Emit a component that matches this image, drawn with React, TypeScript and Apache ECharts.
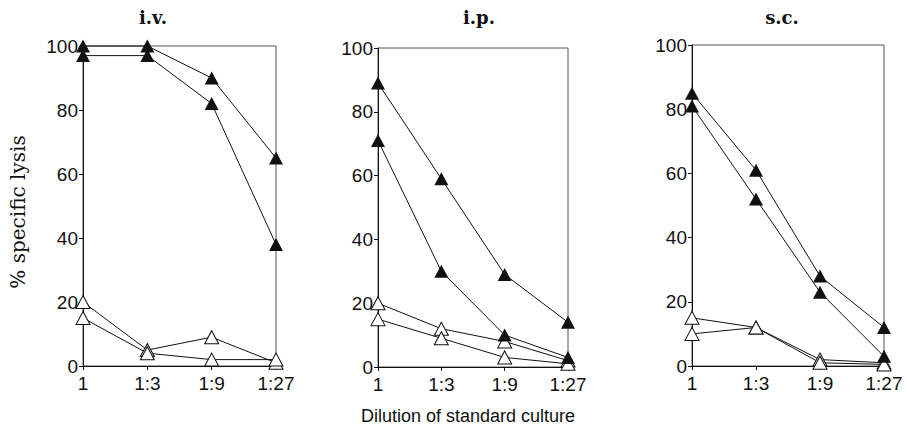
import React, { useEffect, useRef } from "react";
import * as echarts from "echarts";

const dilutions = ["1", "1:3", "1:9", "1:27"];
const panelTitles = ["i.v.", "i.p.", "s.c."];

// filled triangles (two series per panel), open triangles (two series per panel)
const ivFilledA = [100, 100, 90, 65];
const ivFilledB = [97, 97, 82, 38];
const ivOpenA = [20, 5, 9, 1];
const ivOpenB = [15, 4, 2, 2];

const ipFilledA = [89, 59, 29, 14];
const ipFilledB = [71, 30, 10, 3];
const ipOpenA = [20, 12, 8, 2];
const ipOpenB = [15, 9, 3, 1];

const scFilledA = [85, 61, 28, 12];
const scFilledB = [81, 52, 23, 3];
const scOpenA = [15, 12, 2, 1];
const scOpenB = [10, 12, 1, 0.5];

const yTicks = [0, 20, 40, 60, 80, 100];

const panels = [
  { filled: [ivFilledA, ivFilledB], open: [ivOpenA, ivOpenB] },
  { filled: [ipFilledA, ipFilledB], open: [ipOpenA, ipOpenB] },
  { filled: [scFilledA, scFilledB], open: [scOpenA, scOpenB] },
];

const grids = [
  { left: 83, top: 46, width: 193, height: 320 },
  { left: 378, top: 48, width: 190, height: 319 },
  { left: 692, top: 45, width: 192, height: 321 },
];
const titlePos = [153, 479, 782];

const SANS = "'Liberation Sans', Arial, sans-serif";
const SERIF = "'DejaVu Serif', serif";

export default function App() {
  const ref = useRef<HTMLDivElement>(null);
  useEffect(() => {
    document.body.style.margin = "0";
    const chart = echarts.init(ref.current!, null, { renderer: "svg" });
    const xAxes: any[] = [];
    const yAxes: any[] = [];
    const series: any[] = [];
    panels.forEach((p, i) => {
      xAxes.push({
        type: "category",
        gridIndex: i,
        data: dilutions,
        boundaryGap: false,
        axisLine: { lineStyle: { color: "#111", width: 1 } },
        axisTick: { show: true, length: 4, inside: false, lineStyle: { color: "#111" } },
        axisLabel: { color: "#111", fontFamily: SANS, fontSize: 19, margin: 8 },
        splitLine: { show: false },
      });
      yAxes.push({
        type: "value",
        gridIndex: i,
        min: 0,
        max: 100,
        interval: 20,
        axisLine: { show: true, lineStyle: { color: "#111", width: 1 } },
        axisTick: { show: true, length: 4, lineStyle: { color: "#111" } },
        axisLabel: {
          color: "#111",
          fontFamily: SANS,
          fontSize: 19,
          margin: 5,
          formatter: (v: number) => (yTicks.includes(v) ? String(v) : ""),
        },
        splitLine: { show: false },
      });
      p.open.forEach((d) => {
        series.push({
          type: "line",
          xAxisIndex: i,
          yAxisIndex: i,
          data: d,
          symbol: "triangle",
          symbolSize: [14, 13],
          showAllSymbol: true,
          clip: false,
          lineStyle: { color: "#111", width: 1 },
          itemStyle: { color: "#fff", borderColor: "#111", borderWidth: 1 },
          z: 3,
        });
      });
      p.filled.forEach((d) => {
        series.push({
          type: "line",
          xAxisIndex: i,
          yAxisIndex: i,
          data: d,
          symbol: "triangle",
          symbolSize: [14, 13],
          showAllSymbol: true,
          clip: false,
          lineStyle: { color: "#111", width: 1 },
          itemStyle: { color: "#111", borderColor: "#111", borderWidth: 0 },
          z: 4,
        });
      });
    });
    chart.setOption({
      animation: false,
      backgroundColor: "#fff",
      grid: grids.map((g) => ({
        ...g,
        show: true,
        borderColor: "#555",
        borderWidth: 1,
        backgroundColor: "transparent",
        containLabel: false,
      })),
      xAxis: xAxes,
      yAxis: yAxes,
      series,
      graphic: [
        ...panelTitles.map((t, i) => ({
          type: "text",
          x: titlePos[i],
          y: 17,
          style: {
            text: t,
            fontFamily: SERIF,
            fontSize: 18,
            fontWeight: "bold",
            fill: "#111",
            textAlign: "center",
            textVerticalAlign: "middle",
          },
        })),
        {
          type: "text",
          x: 18,
          y: 212,
          rotation: Math.PI / 2,
          style: {
            text: "% specific lysis",
            fontFamily: SERIF,
            fontSize: 20,
            fill: "#111",
            textAlign: "center",
            textVerticalAlign: "middle",
          },
        },
        {
          type: "text",
          x: 468,
          y: 416,
          style: {
            text: "Dilution of standard culture",
            fontFamily: SANS,
            fontSize: 18,
            fill: "#111",
            textAlign: "center",
            textVerticalAlign: "middle",
          },
        },
      ],
    });
    return () => chart.dispose();
  }, []);
  return <div ref={ref} style={{ width: 907, height: 430 }} />;
}
